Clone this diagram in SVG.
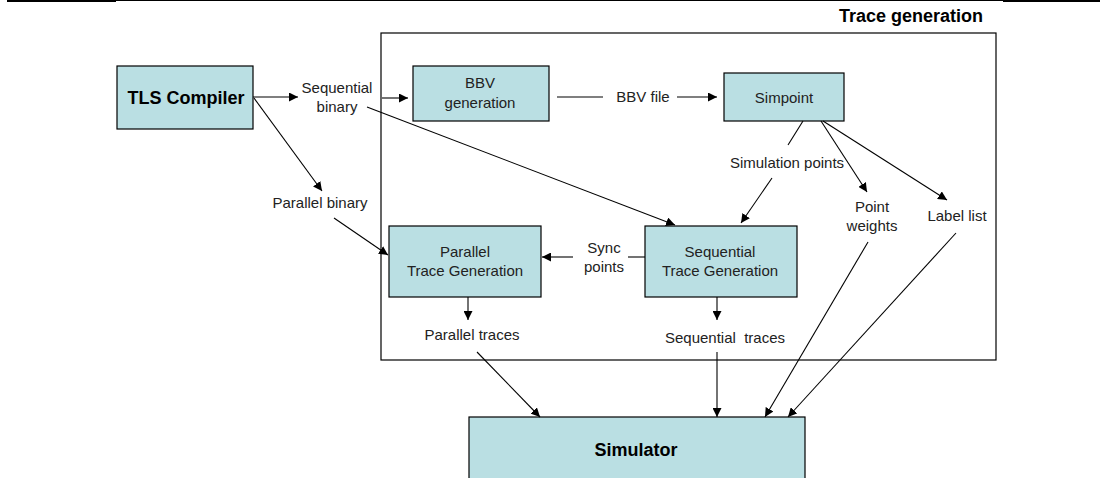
<svg xmlns="http://www.w3.org/2000/svg" width="1100" height="478" viewBox="0 0 1100 478">
  <style>
    .box { fill: #badfe3; stroke: #000; stroke-width: 1.2; }
    .frame { fill: none; stroke: #000; stroke-width: 1.2; }
    .edge { fill: none; stroke: #000; stroke-width: 1.1; }
    .lbl { font-family: "Liberation Sans", Arial, sans-serif; font-size: 15px; fill: #222; text-anchor: middle; }
    .bold { font-family: "Liberation Sans", Arial, sans-serif; font-size: 18px; font-weight: bold; fill: #000; text-anchor: middle; }
  </style>
  <defs>
    <marker id="arrow" viewBox="0 0 10 10" refX="10" refY="5" markerWidth="9" markerHeight="9" markerUnits="userSpaceOnUse" orient="auto">
      <path d="M0,0 L10,5 L0,10 z" fill="#000"/>
    </marker>
  </defs>

  <rect width="1100" height="478" fill="#fff"/>

  <!-- page rule -->
  <line x1="116" y1="0.5" x2="1003" y2="0.5" stroke="#000" stroke-width="1"/>
  <line x1="7" y1="1" x2="116" y2="1" stroke="#000" stroke-width="2.2"/>
  <line x1="1003" y1="1" x2="1100" y2="1" stroke="#000" stroke-width="2.2"/>

  <!-- trace generation frame -->
  <g id="trace-generation">
    <rect class="frame" x="381" y="33" width="615" height="327"/>
    <text class="bold" x="983" y="22" style="text-anchor:end">Trace generation</text>
  </g>

  <g id="tls-compiler">
    <rect class="box" x="117" y="66" width="136" height="63"/>
    <text class="bold" x="186" y="104">TLS Compiler</text>
  </g>

  <g id="bbv-generation">
    <rect class="box" x="413" y="66" width="136" height="55"/>
    <text class="lbl" x="480" y="88">BBV</text>
    <text class="lbl" x="480" y="108">generation</text>
  </g>

  <g id="simpoint">
    <rect class="box" x="724" y="73" width="120" height="48"/>
    <text class="lbl" x="784" y="103">Simpoint</text>
  </g>

  <g id="parallel-trace-generation">
    <rect class="box" x="389" y="226" width="152" height="71"/>
    <text class="lbl" x="465" y="257">Parallel</text>
    <text class="lbl" x="465" y="276">Trace Generation</text>
  </g>

  <g id="sequential-trace-generation">
    <rect class="box" x="645" y="226" width="152" height="71"/>
    <text class="lbl" x="720" y="257">Sequential</text>
    <text class="lbl" x="720" y="276">Trace Generation</text>
  </g>

  <g id="simulator">
    <rect class="box" x="469" y="417" width="336" height="70"/>
    <text class="bold" x="636" y="456">Simulator</text>
  </g>

  <g id="connectors">
    <!-- compiler outputs -->
    <line class="edge" x1="253" y1="97" x2="298" y2="97" marker-end="url(#arrow)"/>
    <line class="edge" x1="382" y1="98" x2="408" y2="98" marker-end="url(#arrow)"/>
    <line class="edge" x1="367" y1="107" x2="675" y2="225" marker-end="url(#arrow)"/>
    <line class="edge" x1="254" y1="98" x2="322" y2="191" marker-end="url(#arrow)"/>
    <line class="edge" x1="334" y1="218" x2="388" y2="255" marker-end="url(#arrow)"/>

    <!-- BBV file -->
    <line class="edge" x1="557" y1="97" x2="603" y2="97"/>
    <line class="edge" x1="677" y1="97" x2="717" y2="97" marker-end="url(#arrow)"/>

    <!-- simpoint outputs -->
    <line class="edge" x1="803" y1="121" x2="788" y2="145"/>
    <line class="edge" x1="772" y1="178" x2="741" y2="223" marker-end="url(#arrow)"/>
    <line class="edge" x1="821" y1="121" x2="867" y2="192" marker-end="url(#arrow)"/>
    <line class="edge" x1="823" y1="121" x2="947" y2="200" marker-end="url(#arrow)"/>

    <!-- sync points -->
    <line class="edge" x1="645" y1="257" x2="628" y2="257"/>
    <line class="edge" x1="573" y1="257" x2="542" y2="257" marker-end="url(#arrow)"/>

    <!-- traces -->
    <line class="edge" x1="468" y1="297" x2="468" y2="320" marker-end="url(#arrow)"/>
    <line class="edge" x1="717" y1="297" x2="717" y2="320" marker-end="url(#arrow)"/>
    <line class="edge" x1="477" y1="352" x2="540" y2="417" marker-end="url(#arrow)"/>
    <line class="edge" x1="717" y1="352" x2="717" y2="417" marker-end="url(#arrow)"/>
    <line class="edge" x1="868" y1="242" x2="765" y2="417" marker-end="url(#arrow)"/>
    <line class="edge" x1="956" y1="233" x2="788" y2="417" marker-end="url(#arrow)"/>
  </g>

  <!-- connector labels -->
  <g id="labels">
    <text class="lbl" x="337" y="93">Sequential</text>
    <text class="lbl" x="337" y="112">binary</text>
    <text class="lbl" x="320" y="208">Parallel binary</text>
    <text class="lbl" x="643" y="102">BBV file</text>
    <text class="lbl" x="787" y="168">Simulation points</text>
    <text class="lbl" x="872" y="212">Point</text>
    <text class="lbl" x="872" y="231">weights</text>
    <text class="lbl" x="957" y="221">Label list</text>
    <text class="lbl" x="604" y="253">Sync</text>
    <text class="lbl" x="604" y="272">points</text>
    <text class="lbl" x="472" y="340">Parallel traces</text>
    <text class="lbl" x="725" y="343" style="white-space:pre">Sequential  traces</text>
  </g>
</svg>
